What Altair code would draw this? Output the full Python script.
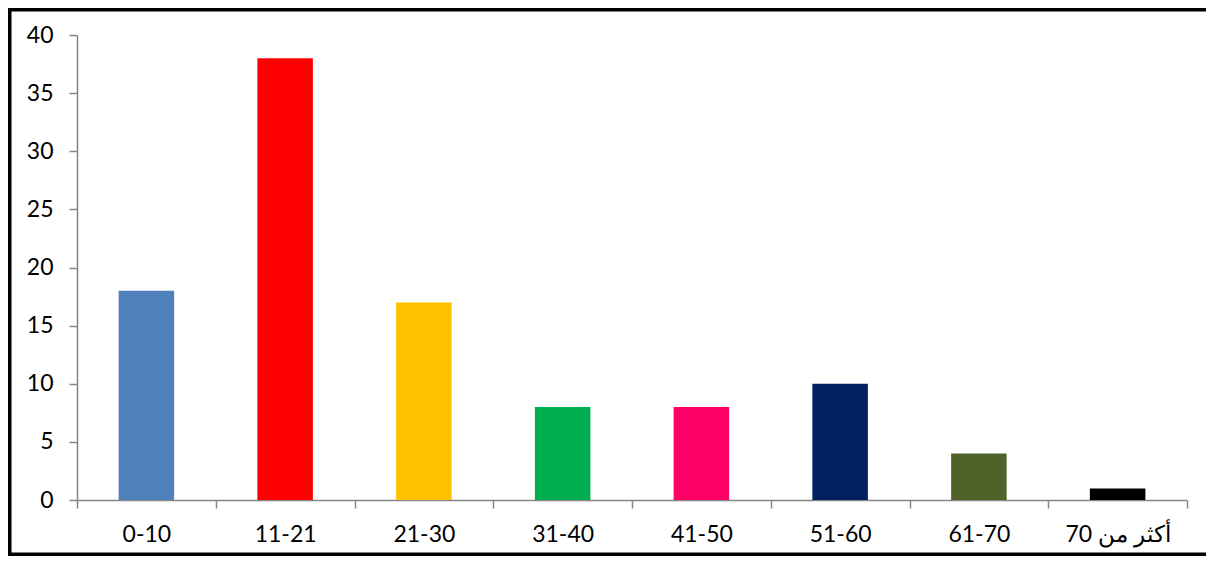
import altair as alt
import pandas as pd

categories = ["0-10", "11-21", "21-30", "31-40", "41-50", "51-60", "61-70", "أكثر من 70"]
values = [18, 38, 17, 8, 8, 10, 4, 1]
colors = ["#4F81BD", "#FF0000", "#FFC000", "#00B050", "#FF0066", "#002060", "#4F6228", "#000000"]

df = pd.DataFrame({"cat": categories, "val": values})

W, H = 1110, 465
PL, PT, PR, PB = 69, 27, 19, 56
FONT = "Lato"
AXIS_GRAY = "#868686"

bars = alt.Chart(df).mark_bar(width=alt.RelativeBandSize(0.4)).encode(
    x=alt.X("cat:N", sort=categories, title=None,
            scale=alt.Scale(paddingInner=0, paddingOuter=0),
            axis=alt.Axis(labelAngle=0, tickBand="extent", tickSize=8,
                          domainColor=AXIS_GRAY, tickColor=AXIS_GRAY,
                          domainWidth=1.5, tickWidth=1.5,
                          labelFont=FONT, labelFontSize=23, labelColor="#000000",
                          labelPadding=15)),
    y=alt.Y("val:Q", title=None,
            scale=alt.Scale(domain=[0, 40], nice=False),
            axis=alt.Axis(values=[0, 5, 10, 15, 20, 25, 30, 35, 40], grid=False,
                          tickSize=8, domainColor=AXIS_GRAY, tickColor=AXIS_GRAY,
                          domainWidth=1.5, tickWidth=1.5,
                          labelFont=FONT, labelFontSize=23, labelColor="#000000",
                          labelPadding=16)),
    color=alt.Color("cat:N", sort=categories, legend=None,
                    scale=alt.Scale(domain=categories, range=colors)),
)

one = alt.Data(values=[{"a": 1}])
BW = 3.5
right_x = W + PR

border_top = alt.Chart(one).mark_rect(fill="#000000", clip=False).encode(
    x=alt.value(-PL), x2=alt.value(right_x), y=alt.value(-PT), y2=alt.value(-PT + BW))
border_bot = alt.Chart(one).mark_rect(fill="#000000", clip=False).encode(
    x=alt.value(-PL), x2=alt.value(right_x), y=alt.value(H + PB - BW), y2=alt.value(H + PB))
border_left = alt.Chart(one).mark_rect(fill="#000000", clip=False).encode(
    x=alt.value(-PL), x2=alt.value(-PL + BW), y=alt.value(-PT), y2=alt.value(H + PB))

chart = alt.layer(bars, border_top, border_bot, border_left).properties(
    width=W, height=H,
    autosize=alt.AutoSizeParams(type="none"),
    padding={"left": PL, "top": PT, "right": PR, "bottom": PB},
    background="#FFFFFF",
).configure_view(stroke=None)

chart.save("out.html", embed_options={"renderer": "svg", "actions": False})
